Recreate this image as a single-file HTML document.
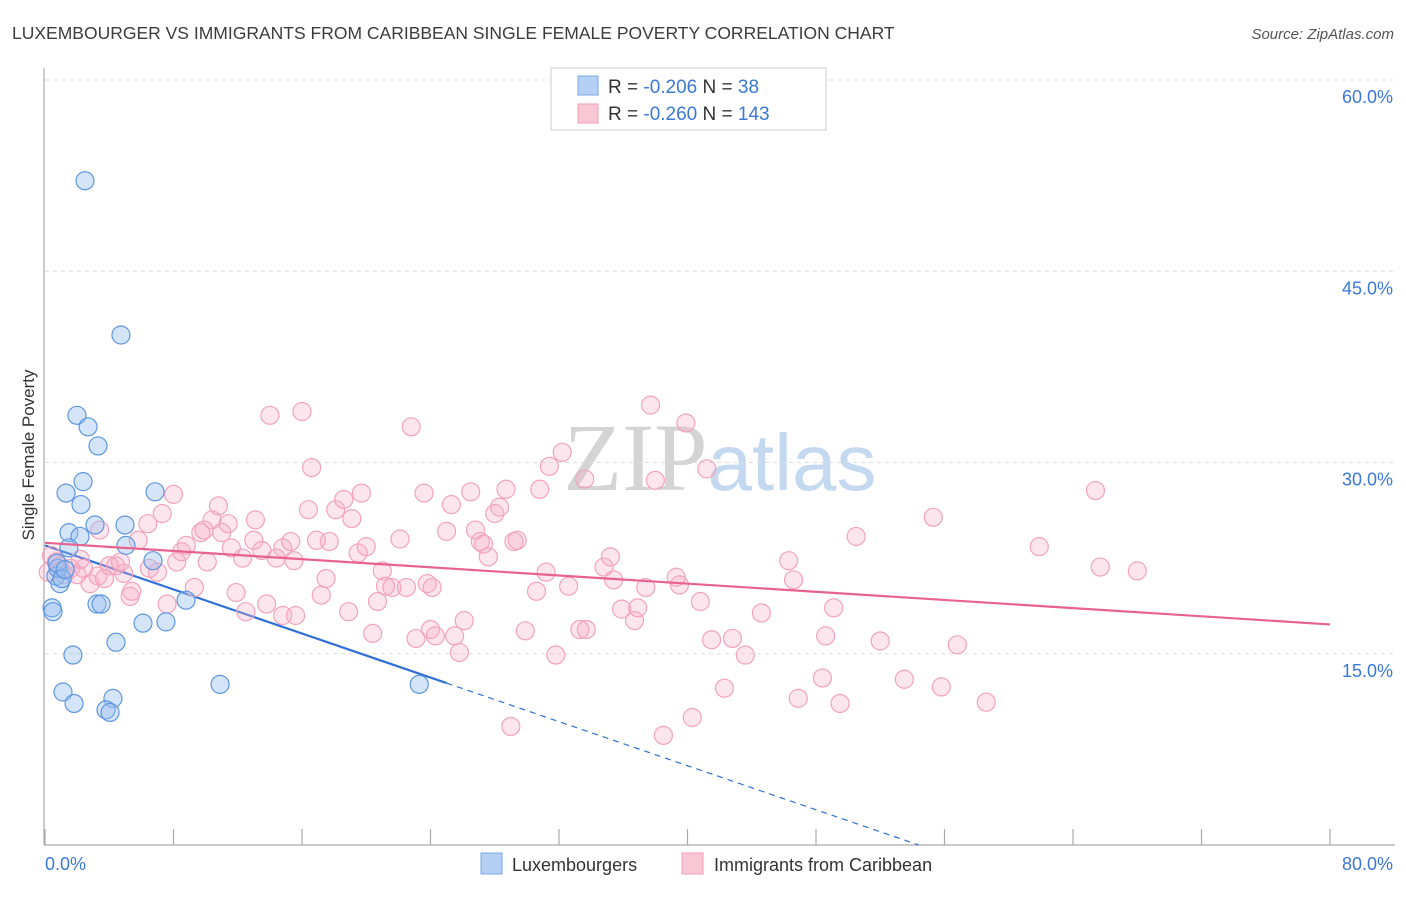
<!DOCTYPE html>
<html><head><meta charset="utf-8"><style>
body{margin:0;background:#fff;font-family:"Liberation Sans",sans-serif}
svg text{font-family:"Liberation Sans",sans-serif}
</style></head><body>
<svg id="chart" width="1406" height="892" viewBox="0 0 1406 892" xmlns="http://www.w3.org/2000/svg">
<text x="12" y="39" font-size="17.5" fill="#3c3c3c">LUXEMBOURGER VS IMMIGRANTS FROM CARIBBEAN SINGLE FEMALE POVERTY CORRELATION CHART</text>
<text x="1394" y="39" font-size="15" fill="#555" font-style="italic" text-anchor="end">Source: ZipAtlas.com</text>
<text x="720" y="490" font-size="96" text-anchor="middle"><tspan fill="#d4d4d4" font-family="Liberation Serif">ZIP</tspan><tspan fill="#c4d8f0" font-size="80">atlas</tspan></text>
<g id="grid"></g>
<g id="axes"></g>
<text transform="translate(34,455) rotate(-90)" font-size="17" fill="#333" text-anchor="middle">Single Female Poverty</text>
<line id="bt1" stroke="#2f6fd6" stroke-width="2.2"/>
<line id="bt2" stroke="#2f6fd6" stroke-width="1.2" stroke-dasharray="6,5"/>
<g id="pinkpts"></g>
<g id="bluepts"></g>
<line id="pt" stroke="#e8628e" stroke-width="2.2"/>
<g>
<rect x="551" y="68" width="275" height="62" fill="#fff" stroke="#ccc"/>
<rect x="578" y="76" width="20" height="19" fill="#b5d0f5" stroke="#7aa8e8"/>
<rect x="578" y="104" width="20" height="19" fill="#f9c6d6" stroke="#f0a0bb"/>
<text x="608" y="93" font-size="19" fill="#333">R = <tspan fill="#3a78d8">-0.206</tspan>   N = <tspan fill="#3a78d8"> 38</tspan></text>
<text x="608" y="120" font-size="19" fill="#333">R = <tspan fill="#3a78d8">-0.260</tspan>   N = <tspan fill="#3a78d8">143</tspan></text>
</g>
<g>
<rect x="481" y="853" width="21" height="21" fill="#b5d0f5" stroke="#7aa8e8"/>
<text x="512" y="871" font-size="18" fill="#333">Luxembourgers</text>
<rect x="682" y="853" width="21" height="21" fill="#f9c6d6" stroke="#f0a0bb"/>
<text x="714" y="871" font-size="18" fill="#333">Immigrants from Caribbean</text>
</g>
</svg>
<script>
const yTicks=[15,30,45,60];
const yTickLabels=["15.0%","30.0%","45.0%","60.0%"];
const xTickCount=[0,8,16,24,32,40,48,56,64,72,80];
const xEndLabels=["0.0%","80.0%"];
const blueX=[2.49,4.73,1.99,2.68,3.30,1.31,2.37,2.24,6.85,3.11,4.98,1.49,2.18,5.04,1.49,6.72,0.68,0.93,0.81,0.44,0.50,3.24,3.49,6.10,7.53,8.78,4.42,1.74,10.9,23.3,1.12,1.81,4.23,3.80,4.05,0.75,1.06,1.25];
const blueY=[52.1,40.0,33.7,32.8,31.3,27.6,28.5,26.7,27.7,25.1,25.1,24.5,24.2,23.5,23.3,22.3,21.1,20.5,21.7,18.6,18.3,18.9,18.9,17.4,17.5,19.2,15.9,14.9,12.6,12.6,12.0,11.1,11.5,10.6,10.4,22.1,20.9,21.6];
const pinkX=[0.4,0.7,0.9,0.2,1.2,1.6,2.0,2.4,2.8,3.3,3.7,4.0,4.4,4.9,5.3,5.4,5.8,6.4,7.0,7.3,8.0,7.6,8.2,8.5,8.8,9.3,9.7,9.9,10.1,10.4,10.8,11.0,11.4,11.6,11.9,12.3,12.5,13.0,13.1,13.5,13.8,14.0,14.4,14.8,14.8,15.3,15.5,15.6,16.0,16.4,16.6,16.9,17.2,17.5,17.7,18.1,18.6,18.9,19.1,19.5,19.7,20.0,20.4,20.7,21.0,21.2,21.6,22.1,22.5,22.8,23.1,23.6,23.8,24.0,24.1,24.3,25.0,25.3,25.5,25.8,26.1,26.5,26.8,27.1,27.3,27.6,28.0,28.3,28.7,29.2,29.4,29.9,30.6,30.8,31.2,31.4,31.8,32.2,32.6,33.3,33.6,33.7,34.8,35.2,35.4,35.9,36.7,36.9,37.4,37.7,38.0,38.5,39.3,39.5,39.9,40.3,40.8,41.2,41.5,42.3,42.8,43.6,44.6,46.3,46.6,46.9,48.4,48.6,49.1,49.5,50.5,52.0,53.5,55.3,55.8,56.8,58.6,61.9,65.4,65.7,68.0,29.0,3.4,2.2,4.7,6.5];
const pinkY=[22.7,22.2,21.9,21.4,21.2,21.7,21.2,21.7,20.5,21.1,20.9,21.9,21.9,21.3,19.5,19.9,23.9,25.2,21.4,26.0,27.5,18.9,22.2,23.0,23.5,20.2,24.5,24.7,22.2,25.5,26.6,24.5,25.2,23.3,19.8,22.5,18.3,23.9,25.5,23.1,18.9,33.7,22.5,23.3,18.0,23.8,22.3,18.0,34.0,26.3,29.6,23.9,19.6,20.9,23.8,26.3,27.1,18.3,25.6,22.9,27.6,23.4,16.6,19.1,21.5,20.3,20.2,24.0,20.2,32.8,16.2,27.6,20.5,16.9,20.2,16.4,24.6,26.7,16.4,15.1,17.6,27.7,24.7,23.8,23.6,22.6,26.0,26.5,27.9,23.8,23.9,16.8,19.9,27.9,21.4,29.7,14.9,30.8,20.3,16.9,28.7,16.9,21.8,22.6,20.8,18.5,17.6,18.6,20.2,34.5,28.6,8.6,21.0,20.4,33.1,10.0,19.1,29.5,16.1,12.3,16.2,14.9,18.2,22.3,20.8,11.5,13.1,16.4,18.6,11.1,24.2,16.0,13.0,25.7,12.4,15.7,11.2,23.4,27.8,21.8,21.5,9.3,24.7,22.4,22.2,21.7];
const blueTrend=[23.5,-0.432];
const pinkTrend=[23.7,-0.08];
const blueSolidEnd=[25];
const X0=45,X1=1330,Y0=845,PXPER=12.75;
const sx=v=>X0+v/80*(X1-X0);
const sy=v=>Y0-v*PXPER;
const NS="http://www.w3.org/2000/svg";
function mk(t,a){const e=document.createElementNS(NS,t);for(const k in a)e.setAttribute(k,a[k]);return e;}
const grid=document.getElementById('grid');
yTicks.forEach((t,i)=>{
  const l=mk('line',{x1:45,x2:1395,y1:sy(t),y2:sy(t),stroke:'#ddd','stroke-dasharray':'4,4'});
  
  
  grid.appendChild(l);
  const tx=mk('text',{x:1393,y:sy(t)+23,'font-size':18,fill:'#3a78d8','text-anchor':'end'});
  tx.textContent=yTickLabels[i];
  
  
  grid.appendChild(tx);
});
{const l=mk('line',{x1:45,x2:1395,y1:80,y2:80,stroke:'#ddd','stroke-dasharray':'4,4'});


grid.appendChild(l);}
const axes=document.getElementById('axes');
{const a=mk('line',{x1:44,x2:44,y1:68,y2:845,stroke:'#aaa','stroke-width':1.2});


axes.appendChild(a);
const b=mk('line',{x1:44,x2:1395,y1:845,y2:845,stroke:'#aaa','stroke-width':1.2});


axes.appendChild(b);}
xTickCount.forEach(t=>{
  const l=mk('line',{x1:sx(t),x2:sx(t),y1:829,y2:845,stroke:'#aaa','stroke-width':1.2});
  
  
  axes.appendChild(l);
});
{const t1=mk('text',{x:45,y:870,'font-size':18,fill:'#3a78d8'});t1.textContent=xEndLabels[0];


axes.appendChild(t1);
const t2=mk('text',{x:1393,y:870,'font-size':18,fill:'#3a78d8','text-anchor':'end'});t2.textContent=xEndLabels[1];


axes.appendChild(t2);}
const pg=document.getElementById('pinkpts');
pinkX.forEach((x,i)=>{
  const c=mk('circle',{cx:sx(x),cy:sy(pinkY[i]),r:9,fill:'rgba(246,168,194,0.3)',stroke:'#f2a3bd','stroke-width':1.2});
  
  
  pg.appendChild(c);
});
const bg=document.getElementById('bluepts');
blueX.forEach((x,i)=>{
  const c=mk('circle',{cx:sx(x),cy:sy(blueY[i]),r:9,fill:'rgba(150,190,240,0.4)',stroke:'#5f96e0','stroke-width':1.2});
  
  
  bg.appendChild(c);
});
const bf=x=>blueTrend[0]+blueTrend[1]*x;
const zeroX=-blueTrend[0]/blueTrend[1];
const s1=document.getElementById('bt1');
s1.setAttribute('x1',sx(0));s1.setAttribute('y1',sy(bf(0)));s1.setAttribute('x2',sx(blueSolidEnd[0]));s1.setAttribute('y2',sy(bf(blueSolidEnd[0])));
const s2=document.getElementById('bt2');
s2.setAttribute('x1',sx(blueSolidEnd[0]));s2.setAttribute('y1',sy(bf(blueSolidEnd[0])));s2.setAttribute('x2',sx(zeroX));s2.setAttribute('y2',sy(0));
const pf=x=>pinkTrend[0]+pinkTrend[1]*x;
const p=document.getElementById('pt');
p.setAttribute('x1',sx(0));p.setAttribute('y1',sy(pf(0)));p.setAttribute('x2',sx(80));p.setAttribute('y2',sy(pf(80)));
</script>
</body></html>
